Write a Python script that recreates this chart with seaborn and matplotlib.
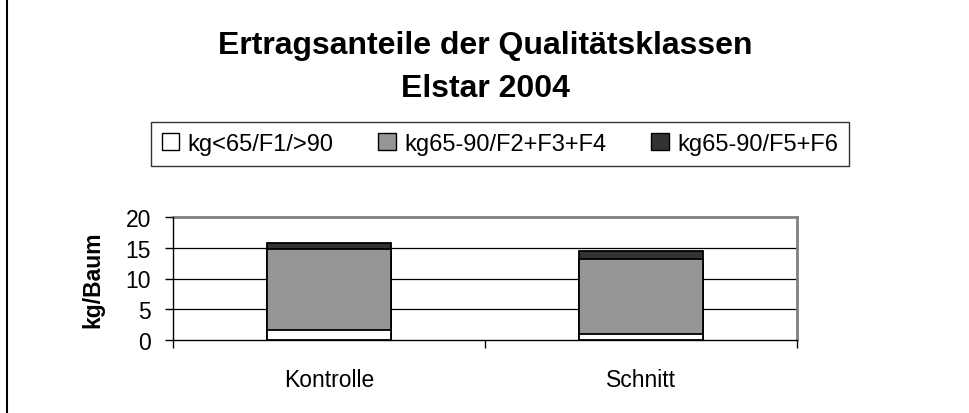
import pandas as pd
import numpy as np
import matplotlib
matplotlib.use("Agg")
import matplotlib.pyplot as plt
from matplotlib.patches import Rectangle, Patch
import seaborn as sns

# ================================
# Data
# ================================
categories = ["Kontrolle", "Schnitt"]
klein = [1.6, 0.9]        # kg<65/F1/>90
mittel = [13.2, 12.3]     # kg65-90/F2+F3+F4
gut = [1.0, 1.2]          # kg65-90/F5+F6
series_names = ["kg<65/F1/>90", "kg65-90/F2+F3+F4", "kg65-90/F5+F6"]
colors = ["#ffffff", "#969696", "#333333"]

yticks = [0, 5, 10, 15, 20]

# ================================
# Stack into cumulative table
# ================================
df = pd.DataFrame({"Kategorie": categories,
                   "s1": klein, "s2": mittel, "s3": gut})
df["c1"] = df["s1"]
df["c2"] = df["s1"] + df["s2"]
df["c3"] = df["c2"] + df["s3"]

sns.set_style("white")
plt.rcParams["font.family"] = ["Liberation Sans", "DejaVu Sans"]
plt.rcParams["text.color"] = "black"
plt.rcParams["axes.labelcolor"] = "black"
plt.rcParams["xtick.color"] = "black"
plt.rcParams["ytick.color"] = "black"

FS = 16.5

W, H = 970, 414
fig = plt.figure(figsize=(W / 100, H / 100), dpi=100)
ax = fig.add_axes([173 / W, (H - 341) / H, (797 - 173) / W, (341 - 218) / H])

# draw tallest first so lower parts sit on top
for col, c in zip(["c3", "c2", "c1"], colors[::-1]):
    sns.barplot(data=df, x="Kategorie", y=col, color=c, width=0.4,
                edgecolor="black", linewidth=1.3, saturation=1, ax=ax,
                zorder=3)

ax.set_xlim(-0.5, 1.5)
ax.set_ylim(0, 20)
ax.set_yticks(yticks)
ax.set_yticklabels([str(v) for v in yticks], fontsize=FS)
ax.tick_params(axis="y", direction="out", length=6, width=1, color="black",
               left=True, pad=10)
ax.set_xticks(range(len(categories)))
ax.set_xticklabels(categories, fontsize=FS)
ax.tick_params(axis="x", which="major", length=0, pad=20)
ax.set_xticks([-0.5, 0.5, 1.5], minor=True)
ax.tick_params(axis="x", which="minor", direction="out", length=6, width=1,
               color="black", bottom=True)

for v in [5, 10, 15]:
    ax.axhline(v, color="black", linewidth=0.9, zorder=1)

ax.set_xlabel("")
ax.set_ylabel("kg/Baum", fontsize=FS, fontweight="bold")
ax.yaxis.set_label_coords((104 - 173) / 624, 0.5)

for s in ["top", "right"]:
    ax.spines[s].set_color("#808080")
    ax.spines[s].set_linewidth(2)
for s in ["left", "bottom"]:
    ax.spines[s].set_color("black")
    ax.spines[s].set_linewidth(1)
    ax.spines[s].set_zorder(4)

# ================================
# Title and legend
# ================================
fig.text(485 / W, 1 - 46 / H, "Ertragsanteile der Qualitätsklassen",
         ha="center", va="center", fontsize=23, fontweight="bold")
fig.text(485 / W, 1 - 89 / H, "Elstar 2004",
         ha="center", va="center", fontsize=23, fontweight="bold")

handles = [Patch(facecolor=c, edgecolor="black", linewidth=1) for c in colors]
leg = fig.legend(handles, series_names, loc="center",
                 bbox_to_anchor=(500 / W, 1 - 145 / H), ncol=3, fontsize=17,
                 frameon=True, fancybox=False, edgecolor="black",
                 handlelength=0.75, handleheight=0.75, handletextpad=0.35,
                 columnspacing=1.9, borderpad=0.45)
leg.get_frame().set_linewidth(1)

# outer chart frame (cropped at right and bottom)
fig.patches.append(Rectangle((7 / W, -0.2), 1.2, 1.2 + (1 - 12 / H),
                             transform=fig.transFigure, fill=False,
                             edgecolor="black", linewidth=1.5))

fig.savefig("out.png", dpi=100)
